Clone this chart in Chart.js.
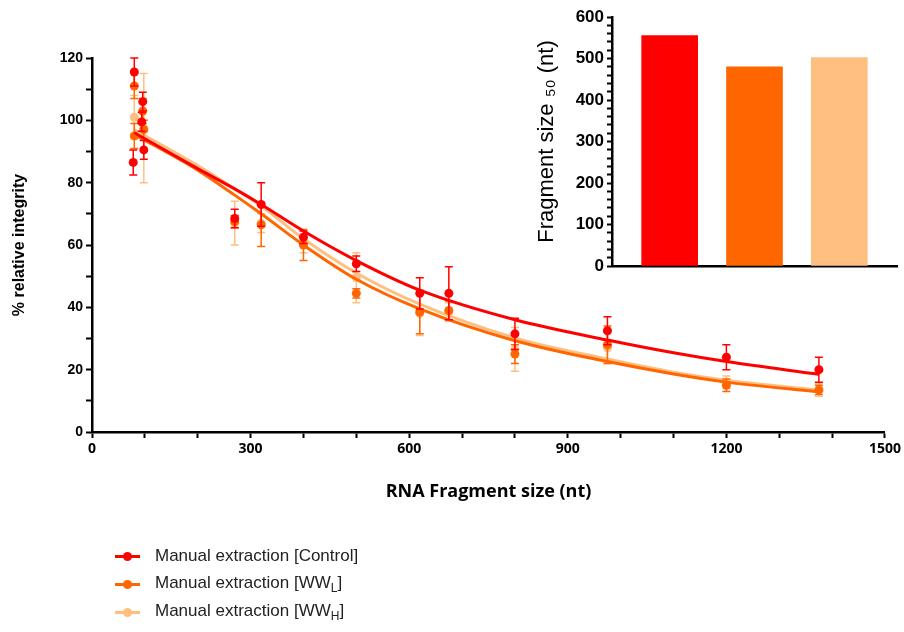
<!DOCTYPE html>
<html>
<head>
<title>RNA fragment integrity</title>
<script src="https://cdn.jsdelivr.net/npm/chart.js"></script>
<style>
  body { margin: 0; background: #fff; }
  #wrap { position: relative; width: 904px; height: 632px; }
  #main { position: absolute; left: 0; top: 0; }
  #inset { position: absolute; left: 520px; top: 0; }
  #legend { position: absolute; left: 115px; top: 542px; font-family: "Liberation Sans", Arial, sans-serif; font-size: 17px; color: #222; }
  .item { height: 28px; display: flex; align-items: center; }
  .mark { position: relative; width: 25px; height: 3px; margin-right: 15px; }
  .mark i { position: absolute; left: 8px; top: -3px; width: 9px; height: 9px; border-radius: 50%; }
  sub { font-size: 12px; }
</style>
</head>
<body>
<div id="wrap">
  <canvas id="main" width="904" height="632"></canvas>
  <canvas id="inset" width="384" height="290"></canvas>
  <div id="legend"></div>
</div>
<script>
// series
const seriesNames = ['Manual extraction [Control]', 'Manual extraction [WW<sub>L</sub>]', 'Manual extraction [WW<sub>H</sub>]'];
const seriesColors = ['#FF0000', '#FF6600', '#FFBF80'];

// measured points (nt, % integrity, error)
const ctrlX = [80, 78, 96, 94, 98, 270, 320, 400, 500, 620, 675, 800, 975, 1200, 1375];
const ctrlY = [115.5, 86.5, 106, 99.5, 90.5, 68.5, 73, 62.5, 54, 44.5, 44.5, 31.5, 32.5, 24, 20];
const ctrlErr = [4.5, 4, 3, 3, 3, 3, 7, 2, 2.5, 5, 8.5, 5, 4.5, 4, 4];

const wwlX = [80, 80, 96, 98, 270, 320, 400, 500, 620, 675, 800, 975, 1200, 1375];
const wwlY = [111, 95, 103, 97, 67.5, 66.5, 60, 44.5, 38.5, 39, 25, 28, 15, 13.5];
const wwlErr = [4, 4, 4, 3, 2, 7, 5, 1.5, 7, 3, 3, 6, 2, 1.5];

const wwhX = [80, 98, 270, 320, 400, 500, 620, 675, 800, 975, 1200, 1375];
const wwhY = [101, 97.5, 67, 67, 60.5, 49.5, 38, 38.5, 26.5, 27, 16, 13.5];
const wwhErr = [7, 17.5, 7, 3, 3, 8, 7, 3, 7, 5, 2, 2];

// fitted curves
const curveX = [80, 200, 270, 320, 400, 500, 620, 800, 975, 1100, 1200, 1375];
const ctrlCurve = [96, 84.5, 78, 73, 64.5, 55, 45.5, 36, 29.5, 25.4, 22.6, 18.5];
const wwlCurve = [95.5, 84, 76, 70, 60, 49, 39.5, 29.3, 22.6, 18.6, 16, 12.9];
const wwhCurve = [97, 85.5, 78, 72.5, 62, 51, 41, 30.2, 23.4, 19.2, 16.6, 13.4];

// inset: fragment size 50
const insetGroups = ['Control', 'WWL', 'WWH'];
const insetValues = [555, 480, 502];

const pts = [[ctrlX, ctrlY, ctrlErr], [wwlX, wwlY, wwlErr], [wwhX, wwhY, wwhErr]];
const curves = [ctrlCurve, wwlCurve, wwhCurve];

const datasets = [];
for (let i = 0; i < 3; i++) {
  datasets.push({
    label: seriesNames[i] + ' fit',
    data: curveX.map((x, j) => ({ x: x, y: curves[i][j] })),
    showLine: true,
    borderColor: seriesColors[i],
    borderWidth: 3,
    pointRadius: 0,
    cubicInterpolationMode: 'monotone',
    order: i * 2
  });
  datasets.push({
    label: seriesNames[i],
    data: pts[i][0].map((x, j) => ({ x: x, y: pts[i][1][j] })),
    errors: pts[i][2],
    backgroundColor: seriesColors[i],
    borderWidth: 0,
    pointRadius: 4.5,
    order: i * 2 + 1
  });
}

// draws error bars under each point set
const errorBars = {
  id: 'errorBars',
  beforeDatasetDraw(chart, args) {
    const ds = chart.data.datasets[args.index];
    if (!ds.errors) return;
    const ctx = chart.ctx, x = chart.scales.x, y = chart.scales.y;
    ctx.save();
    ctx.strokeStyle = ds.backgroundColor;
    ctx.lineWidth = 1.5;
    ds.data.forEach((p, j) => {
      const e = ds.errors[j];
      const px = x.getPixelForValue(p.x);
      const top = y.getPixelForValue(p.y + e);
      const bot = y.getPixelForValue(p.y - e);
      ctx.beginPath();
      ctx.moveTo(px, top); ctx.lineTo(px, bot);
      ctx.moveTo(px - 4, top); ctx.lineTo(px + 4, top);
      ctx.moveTo(px - 4, bot); ctx.lineTo(px + 4, bot);
      ctx.stroke();
    });
    ctx.restore();
  }
};

const sans = '"Liberation Sans", Arial, sans-serif';

new Chart(document.getElementById('main'), {
  type: 'scatter',
  data: { datasets: datasets },
  plugins: [errorBars],
  options: {
    responsive: false,
    animation: false,
    layout: { padding: { left: 0, top: 58, right: 19, bottom: 128 } },
    plugins: { legend: { display: false }, tooltip: { enabled: false } },
    scales: {
      x: {
        type: 'linear', min: 0, max: 1500,
        afterFit: s => { s.height = 72; },
        border: { color: '#000', width: 2.5 },
        grid: { drawOnChartArea: false, color: '#000', tickColor: '#000', tickWidth: 2, tickLength: 6 },
        ticks: {
          stepSize: 100, autoSkip: false, maxRotation: 0, color: '#000', padding: 3,
          font: { family: '"Open Sans", sans-serif', weight: 'bold', size: 14 },
          callback: v => v % 300 === 0 ? v : ''
        },
        title: {
          display: true, text: 'RNA Fragment size (nt)', color: '#000',
          font: { family: '"Open Sans", sans-serif', weight: 'bold', size: 18 },
          padding: { top: 4, bottom: 1 }
        }
      },
      y: {
        min: 0, max: 120,
        afterFit: s => { s.width = 92; },
        border: { color: '#000', width: 2.5 },
        grid: { drawOnChartArea: false, color: '#000', tickColor: '#000', tickWidth: 2, tickLength: 6 },
        ticks: {
          stepSize: 10, autoSkip: false, color: '#000', padding: 3,
          font: { family: sans, weight: 'bold', size: 14 },
          callback: v => v % 20 === 0 ? v : ''
        },
        title: {
          display: true, text: '% relative integrity', color: '#000',
          font: { family: sans, weight: 'bold', size: 16 },
          padding: { top: 10, bottom: 4 }
        }
      }
    }
  }
});

new Chart(document.getElementById('inset'), {
  type: 'bar',
  data: {
    datasets: [{
      label: 'Fragment size 50',
      data: insetGroups.map((g, i) => ({ x: i + 1, y: insetValues[i] })),
      backgroundColor: seriesColors,
      barThickness: 56
    }]
  },
  options: {
    responsive: false,
    animation: false,
    layout: { padding: { left: 0, top: 17, right: 7, bottom: 24 } },
    plugins: { legend: { display: false }, tooltip: { enabled: false } },
    scales: {
      x: {
        type: 'linear', min: 0.32, max: 3.68, offset: false,
        afterFit: s => { s.height = 0; },
        border: { color: '#000', width: 2.5 },
        grid: { display: false, offset: false },
        ticks: { display: false }
      },
      y: {
        min: 0, max: 600,
        afterFit: s => { s.width = 92; },
        border: { color: '#000', width: 2.5 },
        grid: { drawOnChartArea: false, color: '#000', tickColor: '#000', tickWidth: 2, tickLength: 5 },
        ticks: {
          stepSize: 20, autoSkip: false, color: '#000', padding: 3,
          font: { family: sans, weight: 'bold', size: 17 },
          callback: v => v % 100 === 0 ? v : ''
        },
        title: {
          display: true, text: 'Fragment size \u2085\u2080 (nt)', color: '#000',
          font: { family: sans, size: 22 },
          padding: { top: 14, bottom: 4 }
        }
      }
    }
  }
});

// legend with subscripts
const legend = document.getElementById('legend');
seriesNames.forEach((name, i) => {
  const row = document.createElement('div');
  row.className = 'item';
  row.innerHTML = '<span class="mark" style="background:' + seriesColors[i] + '"><i style="background:' +
    seriesColors[i] + '"></i></span><span>' + name + '</span>';
  legend.appendChild(row);
});
</script>
</body>
</html>
